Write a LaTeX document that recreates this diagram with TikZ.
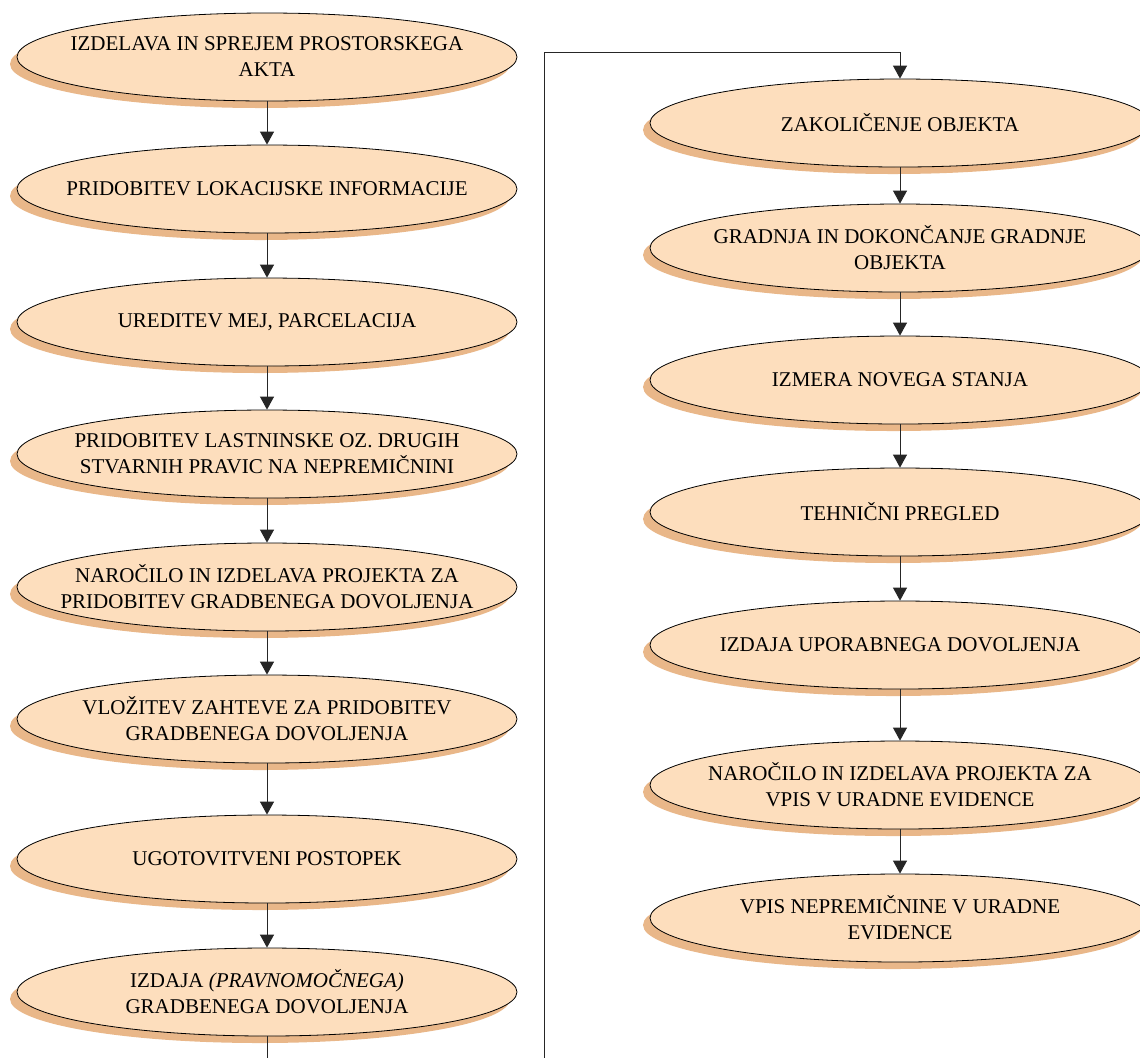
\documentclass[tikz,border=0pt]{standalone}
\usepackage{fontspec}
\setmainfont{Liberation Serif}
\usetikzlibrary{arrows.meta,shapes.geometric,shadows}
\definecolor{stagefill}{RGB}{253,222,189}
\definecolor{stageshade}{RGB}{233,183,137}

\begin{document}
\begin{tikzpicture}[
  x=0.5pt, y=-0.5pt,
  font=\fontsize{10.5}{13}\selectfont,
  >={Triangle[length=6.5pt, width=7pt]},
  stage/.style={ellipse, draw=black, line width=0.4pt, fill=stagefill, align=center,
    minimum width=250pt, minimum height=44pt, inner xsep=-40pt, inner ysep=0pt,
    drop shadow={shadow xshift=-3.5pt, shadow yshift=-3.5pt, opacity=1, fill=stageshade}},
  flow/.style={->, line width=0.5pt, black!85},
]
\useasboundingbox (0,0) rectangle (1140,1057);
\clip (0,0) rectangle (1140,1057);

% ---- left column: up to the building permit
\node[stage] (a1) at (267,57)  {IZDELAVA IN SPREJEM PROSTORSKEGA\\AKTA};
\node[stage] (a2) at (267,189) {PRIDOBITEV LOKACIJSKE INFORMACIJE};
\node[stage] (a3) at (267,322) {UREDITEV MEJ, PARCELACIJA};
\node[stage] (a4) at (267,454) {PRIDOBITEV LASTNINSKE OZ. DRUGIH\\STVARNIH PRAVIC NA NEPREMIČNINI};
\node[stage] (a5) at (267,587) {NAROČILO IN IZDELAVA PROJEKTA ZA\\PRIDOBITEV GRADBENEGA DOVOLJENJA};
\node[stage] (a6) at (267,719) {VLOŽITEV ZAHTEVE ZA PRIDOBITEV\\GRADBENEGA DOVOLJENJA};
\node[stage] (a7) at (267,859) {UGOTOVITVENI POSTOPEK};
\node[stage] (a8) at (267,992) {IZDAJA \textit{(PRAVNOMOČNEGA)}\\GRADBENEGA DOVOLJENJA};

% ---- right column: building and registration
\node[stage] (b1) at (900,123) {ZAKOLIČENJE OBJEKTA};
\node[stage] (b2) at (900,248) {GRADNJA IN DOKONČANJE GRADNJE\\OBJEKTA};
\node[stage] (b3) at (900,380) {IZMERA NOVEGA STANJA};
\node[stage] (b4) at (900,512) {TEHNIČNI PREGLED};
\node[stage] (b5) at (900,645) {IZDAJA UPORABNEGA DOVOLJENJA};
\node[stage] (b6) at (900,785) {NAROČILO IN IZDELAVA PROJEKTA ZA\\VPIS V URADNE EVIDENCE};
\node[stage] (b7) at (900,918) {VPIS NEPREMIČNINE V URADNE\\EVIDENCE};

% ---- arrows down each column
\draw[flow] (a1) -- (a2); \draw[flow] (a2) -- (a3); \draw[flow] (a3) -- (a4);
\draw[flow] (a4) -- (a5); \draw[flow] (a5) -- (a6); \draw[flow] (a6) -- (a7);
\draw[flow] (a7) -- (a8);
\draw[flow] (b1) -- (b2); \draw[flow] (b2) -- (b3); \draw[flow] (b3) -- (b4);
\draw[flow] (b4) -- (b5); \draw[flow] (b5) -- (b6); \draw[flow] (b6) -- (b7);

% ---- from the permit over to the second column (turns below the page)
\coordinate (low)  at (544,1100);
\coordinate (high) at (544,52);
\draw[flow] (a8.south) |- (low) -- (high) -| (b1.north);
\end{tikzpicture}
\end{document}
